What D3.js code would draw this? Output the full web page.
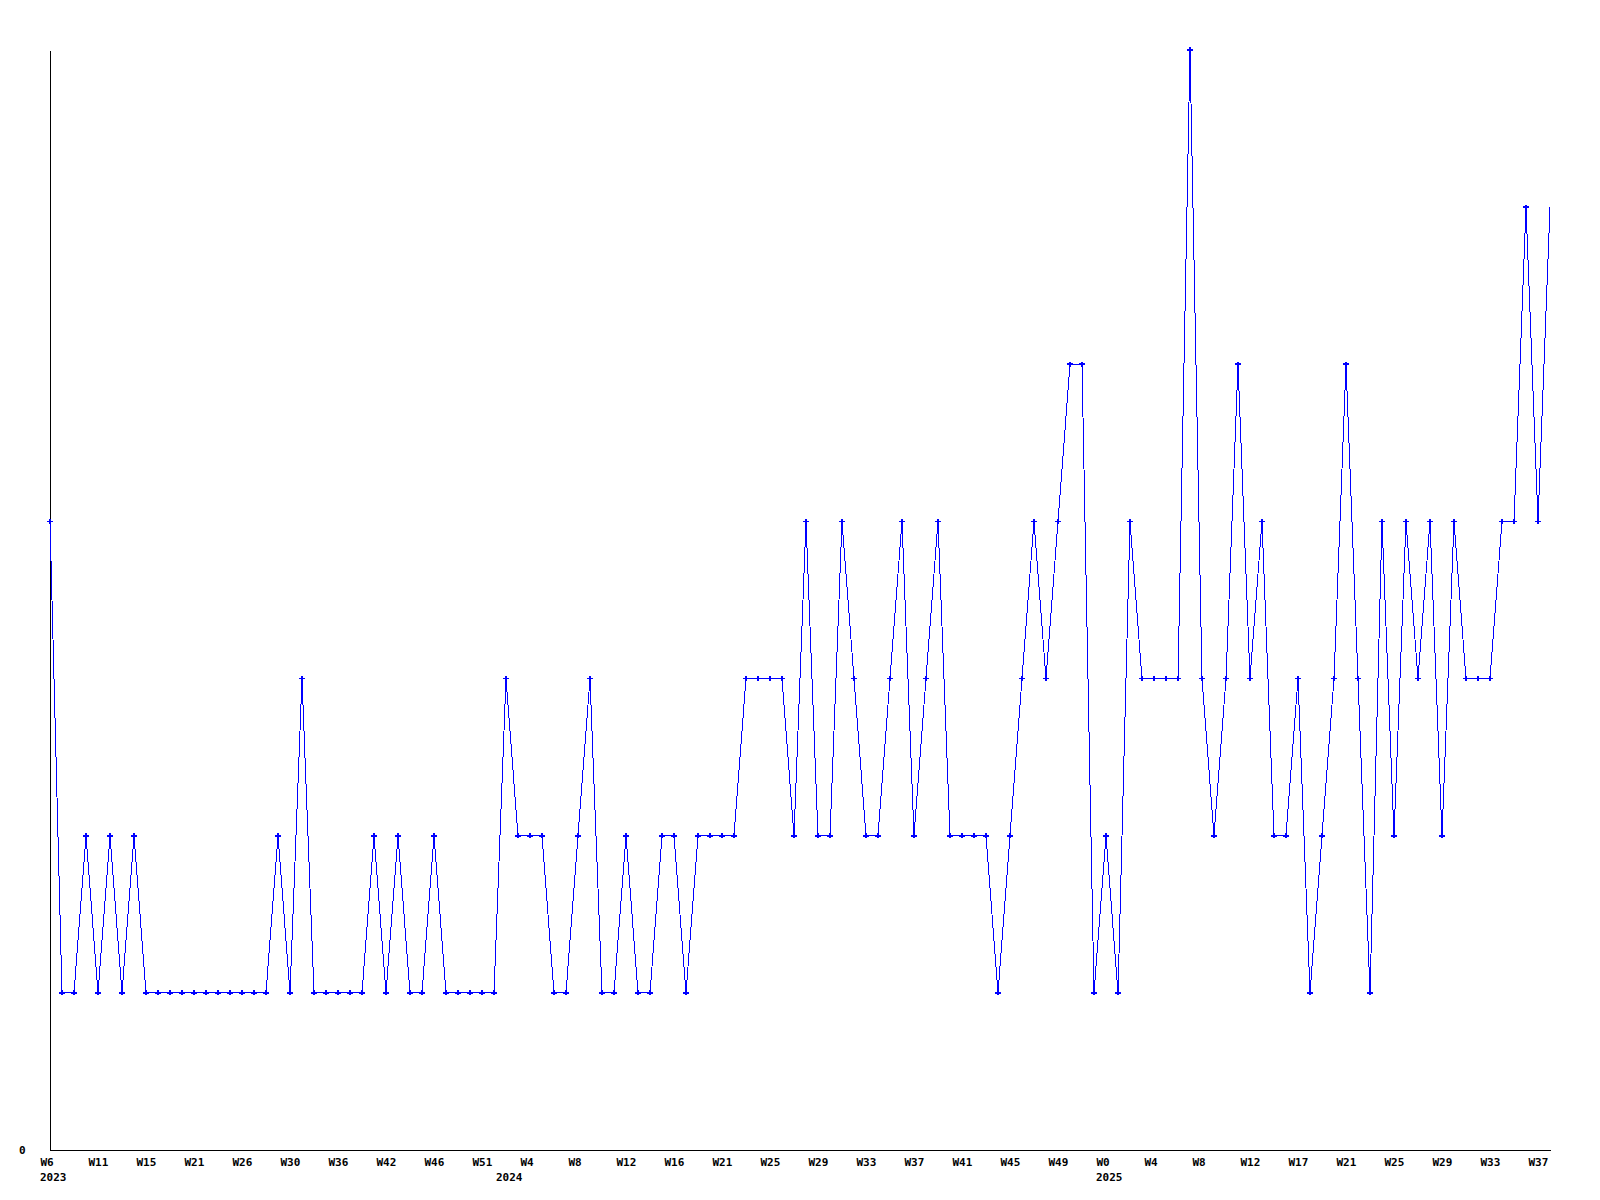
<!DOCTYPE html>
<html>
<head>
<meta charset="utf-8">
<script src="https://cdn.jsdelivr.net/npm/d3@7"></script>
<style>
	body { margin: 0; background: #fff; }
	svg { display: block; }
	.axis path { stroke: #000; stroke-width: 1px; shape-rendering: crispEdges; }
	.axis text { font-family: "DejaVu Sans Mono", monospace; font-weight: bold; font-size: 11px; fill: #000; }
	.line { fill: none; stroke: #0000ff; stroke-width: 1px; shape-rendering: crispEdges; }
	.dot { fill: #0000ff; shape-rendering: crispEdges; }
</style>
</head>
<body>
<div id="chart"></div>
<script>
// one value per point
var values = [
	4, 1, 1, 2, 1, 2, 1, 2, 1, 1,
	1, 1, 1, 1, 1, 1, 1, 1, 1, 2,
	1, 3, 1, 1, 1, 1, 1, 2, 1, 2,
	1, 1, 2, 1, 1, 1, 1, 1, 3, 2,
	2, 2, 1, 1, 2, 3, 1, 1, 2, 1,
	1, 2, 2, 1, 2, 2, 2, 2, 3, 3,
	3, 3, 2, 4, 2, 2, 4, 3, 2, 2,
	3, 4, 2, 3, 4, 2, 2, 2, 2, 1,
	2, 3, 4, 3, 4, 5, 5, 1, 2, 1,
	4, 3, 3, 3, 3, 7, 3, 2, 3, 5,
	3, 4, 2, 2, 3, 1, 2, 3, 5, 3,
	1, 4, 2, 4, 3, 4, 2, 4, 3, 3,
	3, 4, 4, 6, 4, 6
];

// week labels, one every 4 points
var weekLabels = [
	"W6", "W11", "W15", "W21", "W26", "W30", "W36", "W42", "W46", "W51",
	"W4", "W8", "W12", "W16", "W21", "W25", "W29", "W33", "W37", "W41", "W45", "W49",
	"W0", "W4", "W8", "W12", "W17", "W21", "W25", "W29", "W33", "W37"
];

var years = ["2023", "2024", "2025"];
var yearIdx = [0, 38, 88];

var width = 1600, height = 1200;
var margin = {top: 50, right: 50, bottom: 50, left: 50};

var svg = d3.select("#chart")
	.append("svg")
	.attr("width", width)
	.attr("height", height);

var x = d3.scaleLinear()
	.domain([0, values.length - 1])
	.range([margin.left, width - margin.right]);

var y = d3.scaleLinear()
	.domain([0, 7])
	.range([height - margin.bottom, margin.top]);

var tickIdx = weekLabels.map(function(d, i) { return i * 4; });

// x axis, labels start a bit left of their point
var xAxis = svg.append("g")
	.attr("class", "axis")
	.attr("transform", "translate(0," + y(0) + ")")
	.call(d3.axisBottom(x)
		.tickValues(tickIdx)
		.tickSize(0)
		.tickSizeOuter(0)
		.tickFormat(function(d, i) { return weekLabels[i]; }));

xAxis.selectAll(".tick text")
	.attr("text-anchor", "start")
	.attr("dx", -10)
	.attr("y", 12)
	.attr("dy", "0.35em");

xAxis.selectAll(".year")
	.data(years)
	.enter().append("text")
	.attr("class", "year")
	.attr("text-anchor", "start")
	.attr("x", function(d, i) { return x(yearIdx[i]) - 10; })
	.attr("y", 27)
	.attr("dy", "0.35em")
	.text(function(d) { return d; });

// y axis, only the zero label
var yAxis = svg.append("g")
	.attr("class", "axis")
	.attr("transform", "translate(" + margin.left + ",0)")
	.call(d3.axisLeft(y)
		.tickValues([0])
		.tickSize(0)
		.tickSizeOuter(0)
		.tickFormat(d3.format("d")));

yAxis.selectAll(".tick text")
	.attr("x", -31)
	.attr("text-anchor", "start");

var line = d3.line()
	.x(function(d, i) { return x(i); })
	.y(function(d) { return y(d); });

svg.append("path")
	.datum(values)
	.attr("class", "line")
	.attr("d", line);

// markers (the last, unfinished point has none)
svg.selectAll(".dot")
	.data(values.slice(0, values.length - 1))
	.enter().append("path")
	.attr("class", "dot")
	.attr("transform", function(d, i) { return "translate(" + x(i) + "," + y(d) + ")"; })
	.attr("d", d3.symbol().type(d3.symbolCross).size(14));
</script>
</body>
</html>
